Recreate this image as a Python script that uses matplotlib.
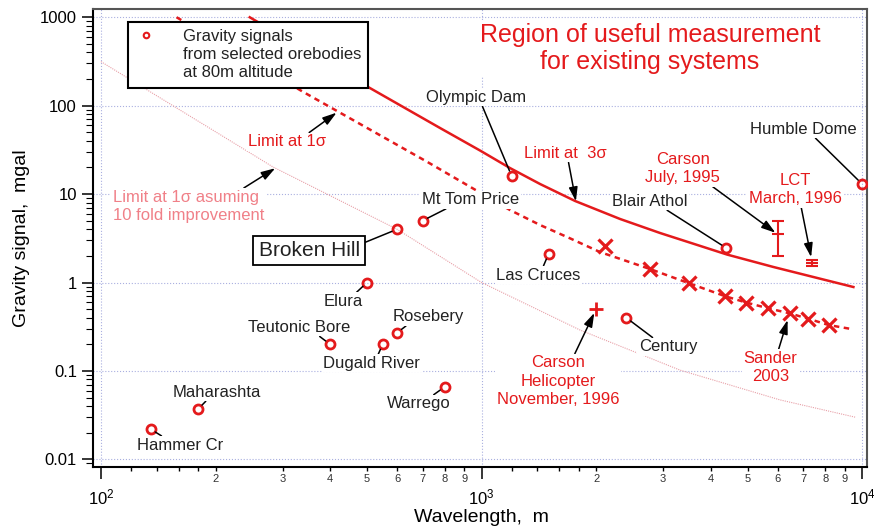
import matplotlib
matplotlib.use('Agg')
import matplotlib.pyplot as plt
from matplotlib.patches import Rectangle
from matplotlib.ticker import LogLocator, FuncFormatter, NullFormatter
import numpy as np

plt.rcParams['font.family'] = ['Liberation Sans', 'DejaVu Sans']

# gravity signals from selected orebodies at 80 m altitude
ore_names = ['Hammer Cr', 'Maharashta', 'Teutonic Bore', 'Elura', 'Dugald River', 'Rosebery',
             'Warrego', 'Broken Hill', 'Mt Tom Price', 'Olympic Dam', 'Las Cruces', 'Century',
             'Blair Athol', 'Humble Dome']
ore_wavelength = [135, 180, 400, 500, 550, 600, 800, 600, 700, 1200, 1500, 2400, 4400, 10000]
ore_signal = [0.022, 0.037, 0.2, 1.0, 0.2, 0.27, 0.066, 4.0, 5.0, 16, 2.1, 0.4, 2.45, 13]

# limit at 3 sigma (solid)
lim3_wavelength = [246, 503, 778, 991, 1188, 1425, 1761, 2312, 2945, 4418, 5840, 7447, 9487]
lim3_signal = [1000, 163, 55.9, 31.1, 19.7, 13.0, 8.36, 5.23, 3.63, 2.07, 1.50, 1.154, 0.889]

# limit at 1 sigma (dashed)
lim1_wavelength = [158, 340, 718, 933, 1188, 1425, 1708, 2048, 2772, 3510, 4365, 4956,
                   5672, 6450, 7211, 8177, 9487]
lim1_signal = [1000, 143, 23.3, 12.1, 6.6, 4.47, 3.16, 2.21, 1.42, 0.98, 0.70, 0.594,
               0.51, 0.448, 0.39, 0.33, 0.295]

# limit at 1 sigma assuming 10 fold improvement
lim10_wavelength = [100, 283, 600, 1000, 1815, 3325, 6087, 9585]
lim10_signal = [315, 20.3, 4.0, 1.0, 0.29, 0.102, 0.047, 0.030]

# Sander 2003
sander_wavelength = [2112, 2772, 3510, 4365, 4956, 5672, 6450, 7211, 8177]
sander_signal = [2.61, 1.42, 0.98, 0.70, 0.594, 0.51, 0.448, 0.39, 0.33]

# Carson helicopter, Carson July 1995, LCT March 1996
heli_wavelength = [2000]
heli_signal = [0.5]
carson_wavelength = [6000]
carson_signal = [3.5]
carson_err = [[1.5], [1.5]]
lct_wavelength = [7400]
lct_signal = [1.65]
lct_err = [[0.13], [0.14]]

red = '#e41a1c'
pink = '#f08088'

fig = plt.figure(figsize=(8.74, 5.32), dpi=100)
ax = fig.add_axes([0.1064, 0.1227, 0.8856, 0.8598])
ax.set_xscale('log')
ax.set_yscale('log')
ax.set_xlim(95.3, 10300)
ax.set_ylim(0.00825, 1230)

ax.grid(True, which='major', color='#aab0e0', ls=':', lw=0.8, zorder=0)

ax.plot(lim10_wavelength, lim10_signal, color='#e8a0a8', lw=0.8, ls=(0, (1, 1)), zorder=2)
ax.plot(lim3_wavelength, lim3_signal, color=red, lw=1.8, zorder=2)
ax.plot(lim1_wavelength, lim1_signal, color=red, lw=1.8, ls=(0, (2.2, 1.8)), zorder=2)

ax.plot(ore_wavelength, ore_signal, 'o', mfc='none', mec=red, ms=6.5, mew=2, zorder=4)
ax.plot(sander_wavelength, sander_signal, 'x', color=red, ms=10, mew=2.3, zorder=4)
ax.plot(heli_wavelength, heli_signal, '+', color=red, ms=10, mew=2, zorder=4)
ax.errorbar(carson_wavelength, carson_signal, yerr=carson_err, fmt='_', color=red,
            ms=9, mew=1.5, elinewidth=1.5, capsize=4.5, capthick=1.5, zorder=4)
ax.errorbar(lct_wavelength, lct_signal, yerr=lct_err, fmt='_', color=red,
            ms=9, mew=1.5, elinewidth=1.5, capsize=4.5, capthick=1.5, zorder=4)

# orebody labels: offset (pixels) and where the leader line leaves the text
ore_offsets = [(30, -16), (19, 17), (-31, 17), (-24, -19), (-11, -19), (31, 16), (-26, -17),
               (-88, -21), (48, 21), (-36, 79), (-10, -21), (42, -29), (-77, 47), (-59, 55)]
ore_relpos = [(0.31, 1), (0.39, 0), (0.68, 0), (0.8, 1), (0.56, 1), (0.22, 0), (0.7, 1),
              (1, 0.8), (0.28, 0), (0.56, 0), (0.55, 1), (0.27, 1), (0.7, 0), (0.6, 0)]
for name, x, y, off, rp in zip(ore_names, ore_wavelength, ore_signal, ore_offsets, ore_relpos):
    if name == 'Broken Hill':
        box = dict(boxstyle='square,pad=0.25', fc='white', ec='black', lw=1.3)
        fs = 15
    else:
        box = dict(boxstyle='square,pad=0.1', fc='white', ec='none')
        fs = 12
    ax.annotate(name, xy=(x, y), xytext=off, textcoords='offset pixels',
                ha='center', va='center', fontsize=fs, color='#222222', bbox=box, zorder=6,
                arrowprops=dict(arrowstyle='-', color='black', lw=1.1, relpos=rp,
                                shrinkA=0, shrinkB=4))

red_box = dict(boxstyle='square,pad=0.1', fc='white', ec='none')
head = dict(arrowstyle='-|>,head_length=0.7,head_width=0.22', color='black', lw=1.1, shrinkA=0)
ls_red = 1.27

ax.annotate('Carson\nHelicopter\nNovember, 1996', xy=(heli_wavelength[0], heli_signal[0]),
            xytext=(-38, -72), textcoords='offset pixels', ha='center', va='center',
            fontsize=12, color=red, linespacing=ls_red, bbox=red_box, zorder=6,
            arrowprops=dict(head, relpos=(0.63, 1), shrinkB=3))
ax.annotate('Sander\n2003', xy=(sander_wavelength[6], sander_signal[6]),
            xytext=(-19, -54), textcoords='offset pixels', ha='center', va='center',
            fontsize=12, color=red, linespacing=ls_red, bbox=red_box, zorder=6,
            arrowprops=dict(head, relpos=(0.64, 1), shrinkB=5))
ax.annotate('Carson\nJuly, 1995', xy=(carson_wavelength[0], carson_signal[0]),
            xytext=(-95, 66), textcoords='offset pixels', ha='center', va='center',
            fontsize=12, color=red, linespacing=ls_red, bbox=red_box, zorder=6,
            arrowprops=dict(head, relpos=(0.87, 0), shrinkB=2))
ax.annotate('LCT\nMarch, 1996', xy=(lct_wavelength[0], lct_signal[0]),
            xytext=(-17, 74), textcoords='offset pixels', ha='center', va='center',
            fontsize=12, color=red, linespacing=ls_red, bbox=red_box, zorder=6,
            arrowprops=dict(head, relpos=(0.56, 0), shrinkB=4.5))
ax.annotate('Limit at  3σ', xy=(1770, 8.3), xytext=(-11, 48), textcoords='offset pixels',
            ha='center', va='center', fontsize=12, color=red, bbox=red_box, zorder=6,
            arrowprops=dict(head, relpos=(0.54, 0), shrinkB=0))
ax.annotate('Limit at 1σ', xy=(416, 83.3), xytext=(-50, -29), textcoords='offset pixels',
            ha='center', va='center', fontsize=12, color=red, bbox=red_box, zorder=6,
            arrowprops=dict(head, relpos=(0.76, 1), shrinkB=0))
ax.annotate('Limit at 1σ asuming\n10 fold improvement', xy=(287, 19.6), xytext=(-87, -38),
            textcoords='offset pixels', ha='center', va='center', multialignment='left',
            fontsize=12, color=pink, linespacing=ls_red, bbox=red_box, zorder=6,
            arrowprops=dict(head, relpos=(0.85, 1), shrinkB=0))

ax.text(2770, 440, 'Region of useful measurement\nfor existing systems', ha='center',
        va='center', fontsize=18, color=red, linespacing=1.18, bbox=red_box, zorder=6)

# legend box
ax.add_patch(Rectangle((0.0448, 0.8273), 0.3109, 0.1456, transform=ax.transAxes,
                       fc='white', ec='black', lw=1.5, zorder=7))
ax.plot([0.068], [0.9438], 'o', mfc='none', mec=red, ms=4, mew=1.5,
        transform=ax.transAxes, zorder=8)
ax.text(0.1163, 0.9012, 'Gravity signals\nfrom selected orebodies\nat 80m altitude',
        transform=ax.transAxes, ha='left', va='center', fontsize=12, linespacing=1.22,
        color='#222222', zorder=8)

# axes and ticks
ax.xaxis.set_major_locator(LogLocator(base=10, numticks=10))
ax.xaxis.set_minor_locator(LogLocator(base=10, subs=[1.2, 1.4, 1.6, 1.8, 2, 3, 4, 5, 6, 7, 8, 9],
                                      numticks=30))
ax.xaxis.set_major_formatter(FuncFormatter(
    lambda v, p: r'$\mathregular{10^{%d}}$' % round(np.log10(v))))


def minor_digit(v, p):
    d = v / 10 ** np.floor(np.log10(v) + 1e-9)
    return '%d' % round(d) if abs(d - round(d)) < 1e-6 else ''


ax.xaxis.set_minor_formatter(FuncFormatter(minor_digit))
ax.yaxis.set_major_locator(LogLocator(base=10, numticks=10))
ax.yaxis.set_minor_locator(LogLocator(base=10, subs=np.arange(2, 10), numticks=30))
ax.yaxis.set_major_formatter(FuncFormatter(lambda v, p: '%g' % v))
ax.yaxis.set_minor_formatter(NullFormatter())

ax.tick_params(axis='x', which='major', length=8.6, width=1.1, pad=6, labelsize=12)
ax.tick_params(axis='x', which='minor', length=3.2, width=1.0, pad=2, labelsize=8,
               labelcolor='#333333')
ax.tick_params(axis='y', which='major', length=8, width=1.1, pad=3.6, labelsize=12)
ax.tick_params(axis='y', which='minor', length=5, width=0.8)
ax.tick_params(top=False, right=False)

for s in ['left', 'bottom']:
    ax.spines[s].set_linewidth(1.5)
    ax.spines[s].set_color('black')
for s in ['top', 'right']:
    ax.spines[s].set_linewidth(1.5)
    ax.spines[s].set_color('#555555')

ax.set_xlabel('Wavelength,  m', fontsize=14)
ax.xaxis.set_label_coords(0.502, -0.110)
ax.xaxis.label.set_va('center')
ax.set_ylabel('Gravity signal,  mgal', fontsize=14)
ax.yaxis.set_label_coords(-0.092, 0.5)
ax.yaxis.label.set_va('center')

fig.savefig('out.png', dpi=100)
